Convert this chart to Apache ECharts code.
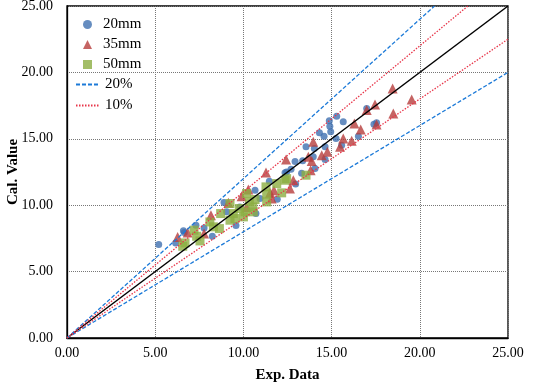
<!DOCTYPE html>
<html>
<head>
<meta charset="utf-8">
<script src="https://cdn.jsdelivr.net/npm/echarts@6/dist/echarts.min.js"></script>
<style>
  html, body { margin: 0; padding: 0; background: #fff; }
  #chart { width: 533px; height: 384px; }
</style>
</head>
<body>
<div id="chart"></div>
<script>
// 数据：[实验值, 计算值]
const data20mm = [
  [5.20, 7.04], [6.16, 7.16], [6.60, 8.07], [6.65, 7.94], [7.31, 8.49], [7.77, 8.29],
  [8.24, 7.66], [8.90, 10.20], [9.05, 9.50], [9.58, 8.47], [9.80, 9.87], [10.66, 11.13],
  [10.71, 9.37], [10.94, 10.50], [11.47, 11.80], [11.92, 10.45], [12.36, 12.44], [12.45, 12.50],
  [12.70, 12.70], [12.93, 13.30], [12.96, 11.60], [13.30, 12.40], [13.36, 13.34], [13.55, 14.40],
  [13.96, 13.64], [14.02, 14.27], [14.06, 12.76], [14.31, 15.45], [14.57, 15.20], [14.63, 14.40],
  [14.63, 13.44], [14.87, 16.36], [14.90, 15.95], [14.95, 15.53], [15.29, 16.70], [15.25, 15.03],
  [15.66, 16.28], [15.57, 14.52], [16.52, 15.20], [17.40, 16.10], [17.55, 16.20], [16.99, 17.29]
];
const data35mm = [
  [6.27, 7.61], [6.84, 7.94], [7.77, 7.86], [8.16, 9.25], [9.15, 10.18], [9.90, 10.68],
  [10.28, 11.18], [10.18, 9.87], [11.28, 12.46], [11.60, 10.50], [11.73, 11.13], [11.51, 10.93],
  [12.42, 13.44], [12.64, 11.26], [12.83, 11.88], [13.68, 13.64], [13.81, 12.64], [13.87, 13.32],
  [13.96, 14.77], [14.44, 13.77], [14.76, 14.02], [15.48, 14.40], [15.66, 15.03], [16.14, 14.85],
  [16.29, 16.16], [16.65, 15.70], [16.99, 17.16], [17.46, 17.59], [17.55, 16.08], [18.46, 18.79],
  [18.50, 16.91], [19.54, 17.96]
];
const data50mm = [
  [6.56, 6.91], [6.69, 7.16], [7.20, 8.12], [7.35, 7.66], [7.54, 7.31], [8.10, 8.74],
  [8.30, 8.37], [8.64, 8.24], [8.71, 9.37], [9.24, 10.13], [9.24, 8.87], [9.43, 9.37],
  [9.52, 9.00], [9.77, 9.75], [10.00, 9.12], [10.09, 9.50], [10.18, 10.88], [10.34, 10.25],
  [10.53, 9.87], [10.56, 9.50], [10.66, 10.43], [11.28, 11.38], [11.32, 10.83], [11.32, 10.25],
  [11.89, 11.63], [12.17, 10.93], [12.36, 11.88], [12.45, 12.00], [13.55, 12.26]
];
// 参考线端点
const lineEqual = [[0, 0], [25, 25]];
const line20Upper = [[0, 0], [20.833, 25]];
const line20Lower = [[0, 0], [25, 20]];
const line10Upper = [[0, 0], [22.727, 25]];
const line10Lower = [[0, 0], [25, 22.5]];

const font = '"Liberation Serif", "Times New Roman", serif';
const chart = echarts.init(document.getElementById('chart'));

const lineSeries = (name, data, color, type, width) => ({
  name: name,
  type: 'line',
  data: data,
  showSymbol: false,
  symbol: 'none',
  silent: true,
  z: 5,
  itemStyle: { color: color, opacity: 0 },
  lineStyle: { color: color, type: type, width: width }
});

const option = {
  animation: false,
  grid: {
    left: 67, right: 25, top: 6, bottom: 46,
    outerBoundsMode: 'none',
    containLabel: false,
    show: true, borderColor: '#000', borderWidth: 1.3
  },
  legend: [
    {
      orient: 'vertical', left: 78, top: 12, itemGap: 5,
      itemWidth: 9, itemHeight: 9,
      textStyle: { fontFamily: font, fontSize: 15, color: '#000', padding: [0, 0, 0, 6] },
      data: ['20mm', '35mm', '50mm']
    },
    {
      orient: 'vertical', left: 70, top: 72, itemGap: 6,
      itemWidth: 24, itemHeight: 9,
      textStyle: { fontFamily: font, fontSize: 15, color: '#000' },
      data: ['20%', '10%']
    }
  ],
  xAxis: {
    type: 'value', min: 0, max: 25, interval: 5,
    name: 'Exp. Data', nameLocation: 'middle', nameGap: 30,
    nameMoveOverlap: false,
    nameTextStyle: { fontFamily: font, fontSize: 15, fontWeight: 'bold', color: '#000' },
    axisLine: { show: true, lineStyle: { color: '#000', width: 1.3 } },
    axisTick: { show: false },
    axisLabel: {
      fontFamily: font, fontSize: 14, color: '#000', margin: 8,
      formatter: v => v.toFixed(2)
    },
    splitLine: { show: true, lineStyle: { color: '#777', type: 'dotted', width: 1 } }
  },
  yAxis: {
    type: 'value', min: 0, max: 25, interval: 5,
    name: 'Cal. Value', nameLocation: 'middle', nameGap: 46,
    nameMoveOverlap: false,
    nameTextStyle: { fontFamily: font, fontSize: 15, fontWeight: 'bold', color: '#000' },
    axisLine: { show: true, lineStyle: { color: '#000', width: 1.3 } },
    axisTick: { show: false },
    axisLabel: {
      fontFamily: font, fontSize: 14, color: '#000', margin: 14,
      formatter: v => v.toFixed(2)
    },
    splitLine: { show: true, lineStyle: { color: '#777', type: 'dotted', width: 1 } }
  },
  series: [
    {
      name: '20mm', type: 'scatter', data: data20mm,
      symbol: 'circle', symbolSize: 7, z: 2,
      itemStyle: { color: '#4070b0' }
    },
    {
      name: '35mm', type: 'scatter', data: data35mm,
      symbol: 'triangle', symbolSize: 10, z: 3,
      itemStyle: { color: '#b63d3c' }
    },
    {
      name: '50mm', type: 'scatter', data: data50mm,
      symbol: 'rect', symbolSize: 9, z: 4,
      itemStyle: { color: '#8cae42' }
    },
    lineSeries('1:1', lineEqual, '#000', 'solid', 1.5),
    lineSeries('20%', line20Upper, '#1c7ad8', [4, 2], 1.3),
    lineSeries('20%', line20Lower, '#1c7ad8', [4, 2], 1.3),
    lineSeries('10%', line10Upper, '#e8364a', [1.5, 1.5], 1.3),
    lineSeries('10%', line10Lower, '#e8364a', [1.5, 1.5], 1.3)
  ]
};
chart.setOption(option);
</script>
</body>
</html>
